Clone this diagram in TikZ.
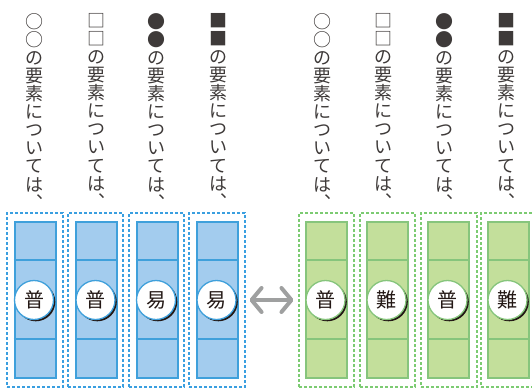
\documentclass[tikz,border=0pt]{standalone}
\usepackage{fontspec}
\newfontfamily\jp{Noto Sans CJK JP}
\usetikzlibrary{arrows.meta,shadows,calc}
\definecolor{bfill}{HTML}{A3CCEE}
\definecolor{bline}{HTML}{3FA0DB}
\definecolor{bdash}{HTML}{3A9FE0}
\definecolor{gfill}{HTML}{C3DF9B}
\definecolor{gline}{HTML}{86C57C}
\definecolor{gdash}{HTML}{7CCB72}
\definecolor{ink}{HTML}{231815}
\definecolor{txt}{HTML}{3E3A39}
\definecolor{arr}{HTML}{9FA0A0}
\tikzset{
  vtext/.style={font=\jp\fontsize{18}{18.1}\selectfont, text=txt, align=center, inner sep=0pt, anchor=north},
  dbox/.style={draw=#1, dash pattern=on 3pt off 2pt, line width=1.1pt, rectangle, inner sep=0pt, minimum height=174pt},
  colbox/.style={draw=#1, line width=2pt, rectangle, inner sep=0pt, minimum height=156pt, minimum width=41pt},
  badge/.style={circle, fill=white, draw=#1, line width=1.3pt, minimum size=39pt, inner sep=0pt,
    font=\jp\fontsize{20}{20}\selectfont, text=ink,
    drop shadow={shadow xshift=1.8pt, shadow yshift=-1.8pt, fill=ink, opacity=1}},
  dualarrow/.style={draw=arr, line width=4pt, {Straight Barb[length=10pt,width=24pt,line cap=round,line join=round]}-{Straight Barb[length=10pt,width=24pt,line cap=round,line join=round]}}
}
\begin{document}
\begin{tikzpicture}[x=1pt,y=-1pt]
\useasboundingbox (0,0) rectangle (532,388);
\clip (0,0) rectangle (532,388);
% blue group
\foreach \i/\dx/\dw/\cx/\lab/\tx/\sym in {1/35/56/35/普/34.5/○, 2/95.5/55/96.5/普/96.5/□, 3/156.5/55/157/易/156.5/●, 4/217/56/217.5/易/218/■}{
  \node[dbox=bdash, minimum width=\dw pt] (b\i) at (\dx,300) {};
  \node[colbox=bline, fill=bfill] (bc\i) at (\cx,300) {};
  \draw[bline, line width=2pt] ($(bc\i.north west)+(0,39)$) -- ($(bc\i.north east)+(0,39)$);
  \draw[bline, line width=2pt] ($(bc\i.south west)+(0,-40)$) -- ($(bc\i.south east)+(0,-40)$);
  \node[badge=bline] (bk\i) at (\cx-1,300) {\lab};
  \node[vtext] (bt\i) at (\tx,13) {\sym\\\sym\\の\\要\\素\\に\\つ\\い\\て\\は\\︑};
}
% green group
\foreach \i/\dx/\dw/\cx/\lab/\tx/\sym in {1/326.5/55/326.5/普/322/○, 2/387.5/55/387.5/難/383.5/□, 3/449/56/448.5/普/444/●, 4/509/56/508.5/難/506/■}{
  \node[dbox=gdash, minimum width=\dw pt] (g\i) at (\dx,300) {};
  \node[colbox=gline, fill=gfill] (gc\i) at (\cx,300) {};
  \draw[gline, line width=2pt] ($(gc\i.north west)+(0,39)$) -- ($(gc\i.north east)+(0,39)$);
  \draw[gline, line width=2pt] ($(gc\i.south west)+(0,-40)$) -- ($(gc\i.south east)+(0,-40)$);
  \node[badge=gline] (gk\i) at (\cx-1,300) {\lab};
  \node[vtext] (gt\i) at (\tx,13) {\sym\\\sym\\の\\要\\素\\に\\つ\\い\\て\\は\\︑};
}
\draw[dualarrow, shorten <=4pt, shorten >=5pt] (b4.east) -- (g1.west);
\end{tikzpicture}
\end{document}
